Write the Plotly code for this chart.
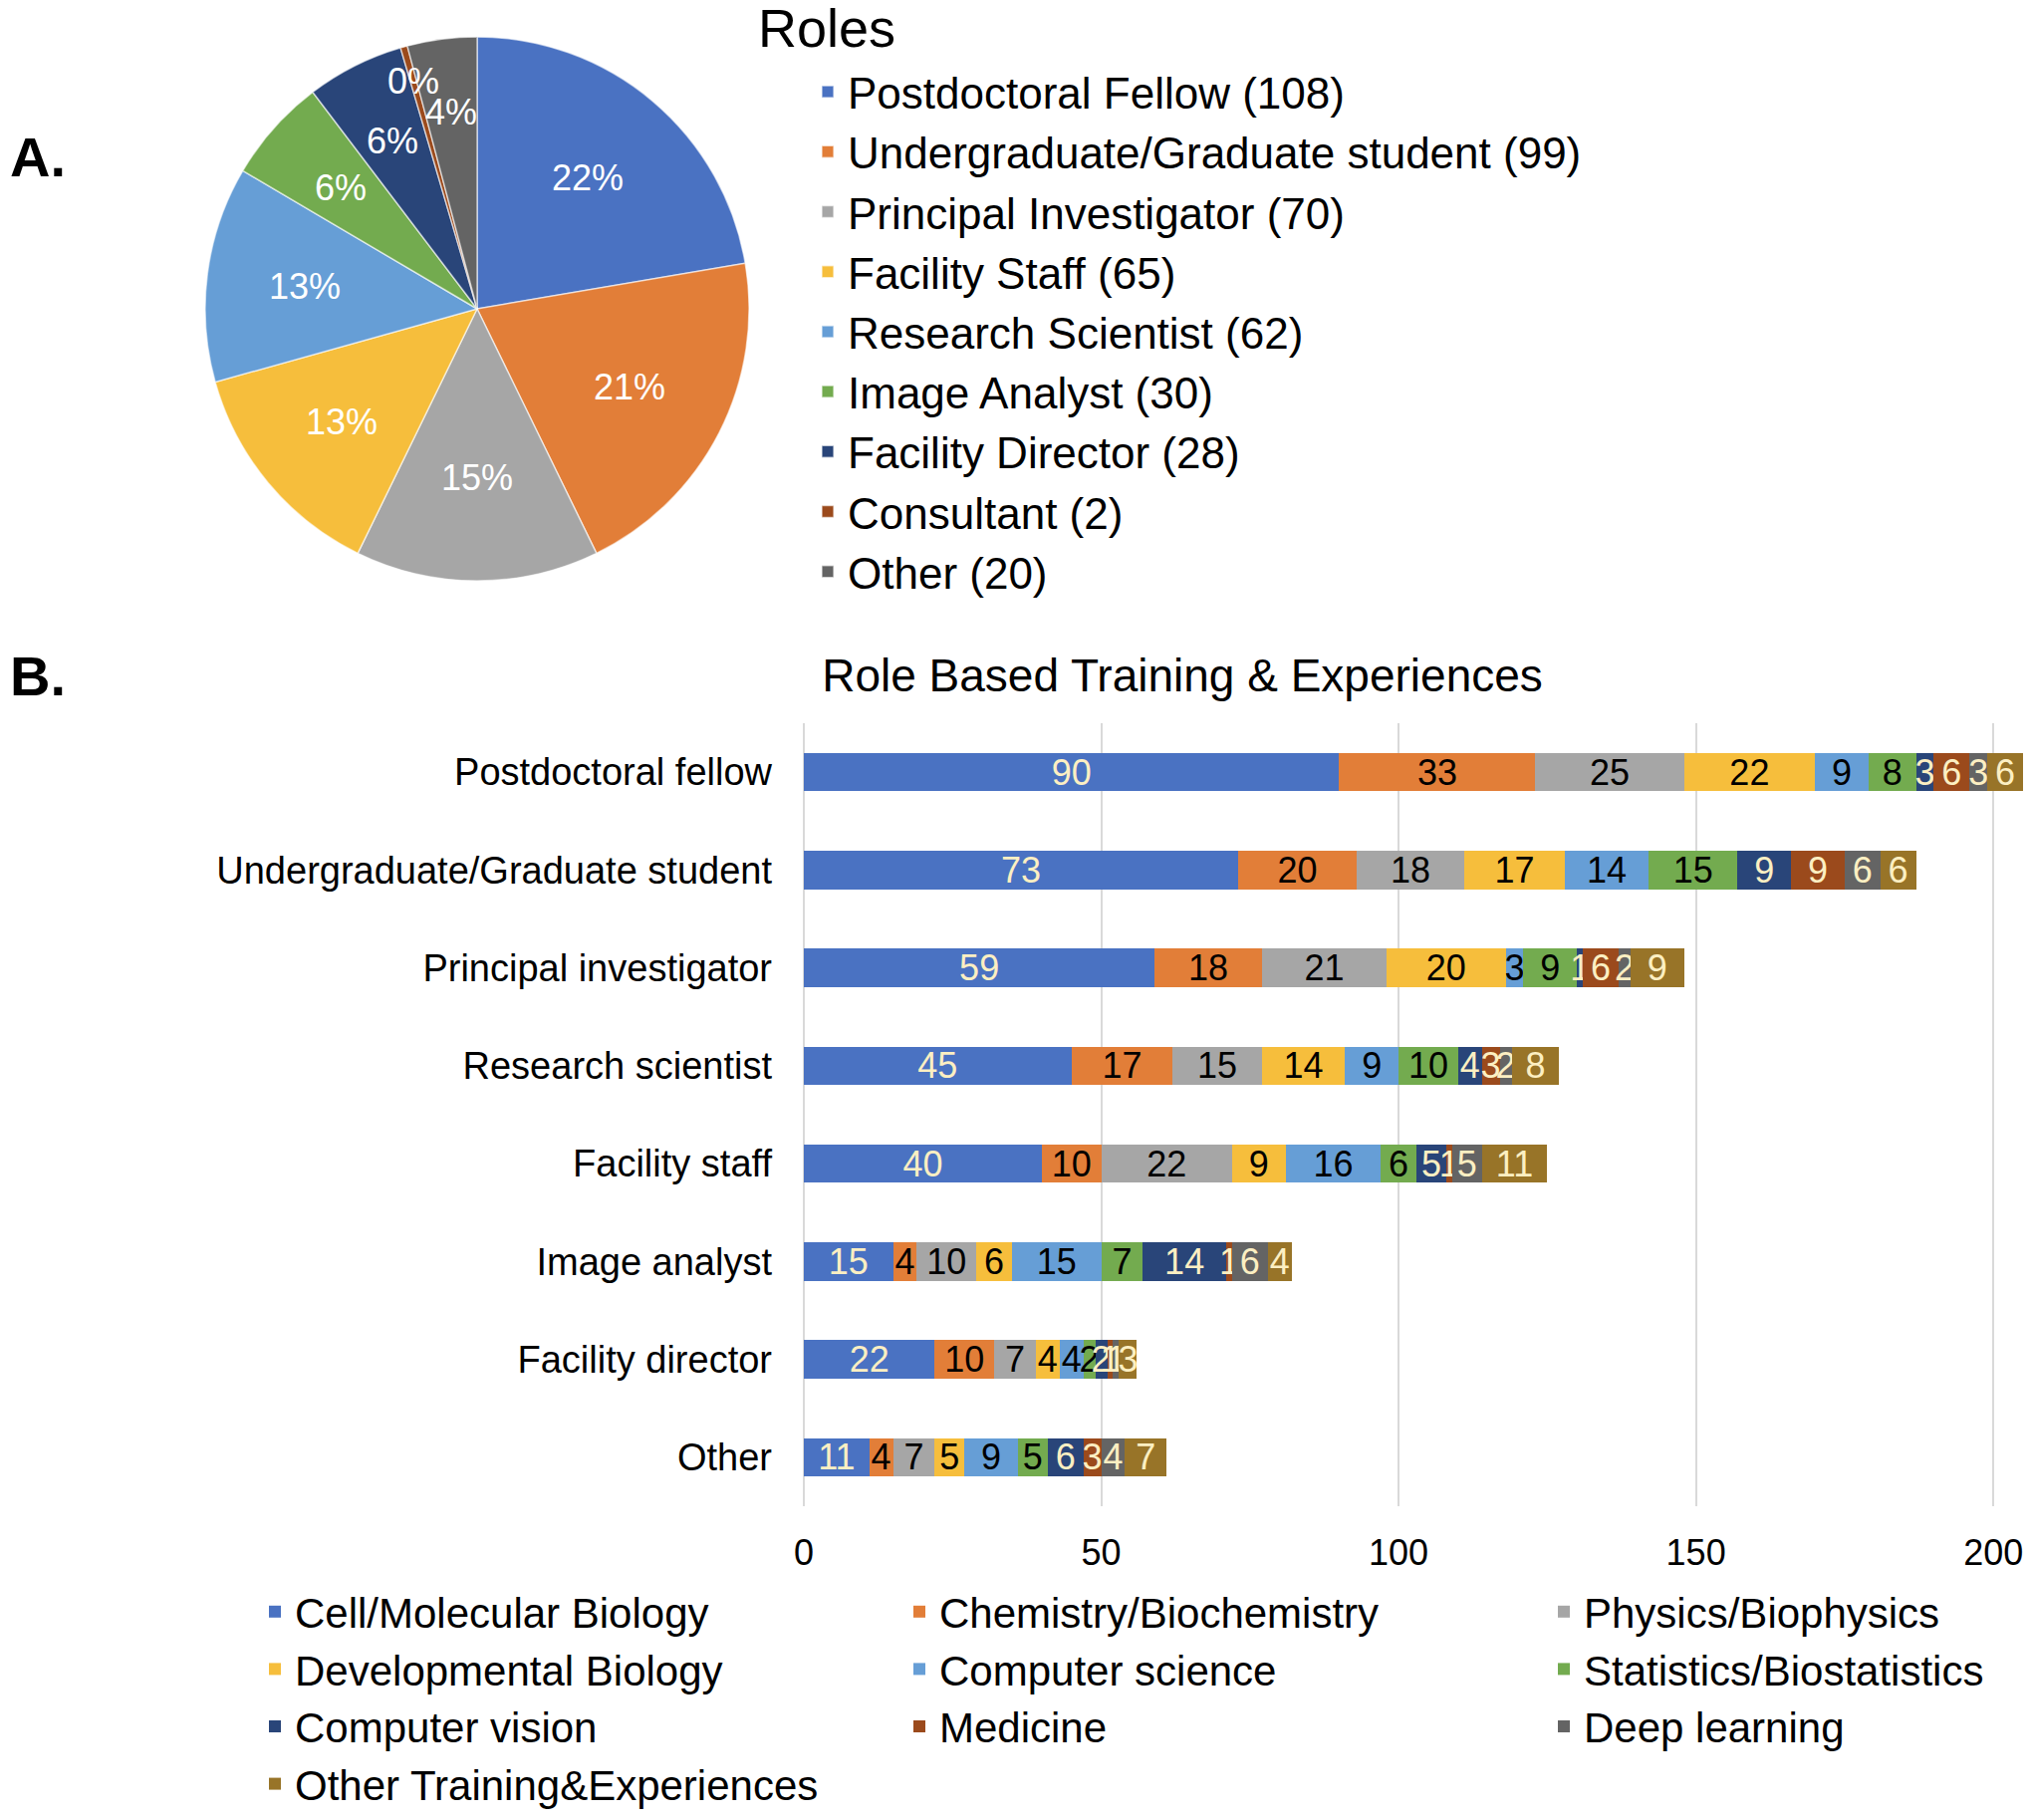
import math
import plotly.graph_objects as go

# The page body has an 8px margin, so the figure is sized to fill the rest of the window.
OFF = 8
FW, FH = 2040 - OFF, 1827 - OFF


def px(x):
    return (x - OFF) / FW


def py(y):
    return 1 - (y - OFF) / FH


# ---------- Panel A data ----------
role_names = ["Postdoctoral Fellow", "Undergraduate/Graduate student", "Principal Investigator",
              "Facility Staff", "Research Scientist", "Image Analyst", "Facility Director",
              "Consultant", "Other"]
role_counts = [108, 99, 70, 65, 62, 30, 28, 2, 20]
role_pct_labels = ["22%", "21%", "15%", "13%", "13%", "6%", "6%", "0%", "4%"]
role_colors = ["#4A72C2", "#E27E38", "#A6A6A6", "#F6BE3C", "#669ED6",
               "#73AB4F", "#294579", "#9B4A1C", "#646464"]
# radial position (fraction of radius) of each slice's percentage label
label_radius = [0.63, 0.63, 0.62, 0.65, 0.64, 0.67, 0.69, 0.87, 0.73]

# ---------- Panel B data ----------
roles_b = ["Postdoctoral fellow", "Undergraduate/Graduate student", "Principal investigator",
           "Research scientist", "Facility staff", "Image analyst", "Facility director", "Other"]
cell_mol = [90, 73, 59, 45, 40, 15, 22, 11]
chem_bio = [33, 20, 18, 17, 10, 4, 10, 4]
physics = [25, 18, 21, 15, 22, 10, 7, 7]
dev_bio = [22, 17, 20, 14, 9, 6, 4, 5]
comp_sci = [9, 14, 3, 9, 16, 15, 4, 9]
stats = [8, 15, 9, 10, 6, 7, 2, 5]
comp_vision = [3, 9, 1, 4, 5, 14, 2, 6]
medicine = [6, 9, 6, 3, 1, 1, 1, 3]
deep_learning = [3, 6, 2, 2, 5, 6, 1, 4]
other_training = [6, 6, 9, 8, 11, 4, 3, 7]

series_names = ["Cell/Molecular Biology", "Chemistry/Biochemistry", "Physics/Biophysics",
                "Developmental Biology", "Computer science", "Statistics/Biostatistics",
                "Computer vision", "Medicine", "Deep learning", "Other Training&Experiences"]
series_values = [cell_mol, chem_bio, physics, dev_bio, comp_sci, stats,
                 comp_vision, medicine, deep_learning, other_training]
series_colors = ["#4A72C2", "#E27E38", "#A6A6A6", "#F6BE3C", "#669ED6",
                 "#73AB4F", "#294579", "#9B4A1C", "#646464", "#987428"]
LIGHT = "#FCEFC2"
series_text_colors = [LIGHT, "#000000", "#000000", "#000000", "#000000", "#000000",
                      LIGHT, LIGHT, LIGHT, LIGHT]

FONT = "Liberation Sans, Arial, Helvetica, sans-serif"

# pie placement (page pixels)
PIE_X0, PIE_X1, PIE_Y0, PIE_Y1 = 206, 752, 36, 584
pie_cx, pie_cy = (PIE_X0 + PIE_X1) / 2, (PIE_Y0 + PIE_Y1) / 2
pie_r = min(PIE_X1 - PIE_X0, PIE_Y1 - PIE_Y0) / 2

fig = go.Figure()

fig.add_trace(go.Pie(
    labels=[f"{n} ({c})" for n, c in zip(role_names, role_counts)],
    values=role_counts,
    textinfo="none",
    marker=dict(colors=role_colors, line=dict(color="rgba(255,255,255,0.6)", width=1.5)),
    sort=False,
    direction="clockwise",
    rotation=0,
    domain=dict(x=[px(PIE_X0), px(PIE_X1)], y=[py(PIE_Y1), py(PIE_Y0)]),
    legend="legend",
    hoverinfo="label+value+percent",
))

# percentage labels positioned at each slice's mid-angle (computed from the counts)
total = sum(role_counts)
pie_annotations = []
cum = 0
for cnt, lab, rf in zip(role_counts, role_pct_labels, label_radius):
    mid = (cum + cnt / 2) / total * 2 * math.pi
    cum += cnt
    lx = pie_cx + rf * pie_r * math.sin(mid)
    ly = pie_cy - rf * pie_r * math.cos(mid)
    pie_annotations.append(dict(
        text=lab, x=px(lx), y=py(ly), xref="paper", yref="paper",
        xanchor="center", yanchor="middle", showarrow=False,
        font=dict(size=36, color="white", family=FONT)))

for name, vals, col, tcol in zip(series_names, series_values, series_colors, series_text_colors):
    fig.add_trace(go.Bar(
        name=name,
        y=roles_b,
        x=vals,
        orientation="h",
        marker=dict(color=col, line=dict(width=0)),
        text=vals,
        textposition="inside",
        insidetextanchor="middle",
        textangle=0,
        insidetextfont=dict(color=tcol, size=36, family=FONT),
        legend="legend2",
        xaxis="x",
        yaxis="y",
    ))

fig.update_layout(
    width=FW, height=FH,
    margin=dict(l=0, r=0, t=0, b=0, autoexpand=False),
    paper_bgcolor="white",
    plot_bgcolor="white",
    font=dict(family=FONT, color="black"),
    barmode="stack",
    bargap=0.61,
    uniformtext=dict(mode="show", minsize=36),
    title=dict(text="Role Based Training & Experiences", x=px(1187), y=py(678),
               xanchor="center", yanchor="middle", font=dict(size=46, family=FONT)),
    xaxis=dict(domain=[px(807), px(2037)], range=[0, 206], tickvals=[0, 50, 100, 150, 200],
               showgrid=True, gridcolor="#D9D9D9", gridwidth=2, zeroline=True,
               zerolinecolor="#D9D9D9", zerolinewidth=2, showline=False,
               tickfont=dict(size=36), ticklabelstandoff=22, fixedrange=True),
    yaxis=dict(domain=[py(1512), py(726)], autorange="reversed",
               showgrid=False, showline=False, zeroline=False,
               tickfont=dict(size=38), ticklabelstandoff=31, fixedrange=True),
    legend=dict(x=px(811), y=py(57), xanchor="left", yanchor="top",
                orientation="v", font=dict(size=44, family=FONT),
                bgcolor="rgba(0,0,0,0)", traceorder="normal"),
    legend2=dict(x=px(256), y=py(1584), xanchor="left", yanchor="top",
                 orientation="h", font=dict(size=42, family=FONT),
                 entrywidth=602, entrywidthmode="pixels",
                 bgcolor="rgba(0,0,0,0)", traceorder="normal"),
    annotations=pie_annotations + [
        dict(text="Roles", x=px(759), y=py(28), xref="paper", yref="paper",
             xanchor="left", yanchor="middle", showarrow=False, font=dict(size=54)),
        dict(text="<b>A.</b>", x=px(8), y=py(158), xref="paper", yref="paper",
             xanchor="left", yanchor="middle", showarrow=False, font=dict(size=56)),
        dict(text="<b>B.</b>", x=px(8), y=py(678), xref="paper", yref="paper",
             xanchor="left", yanchor="middle", showarrow=False, font=dict(size=56)),
    ],
)

fig.write_html("out.html")
